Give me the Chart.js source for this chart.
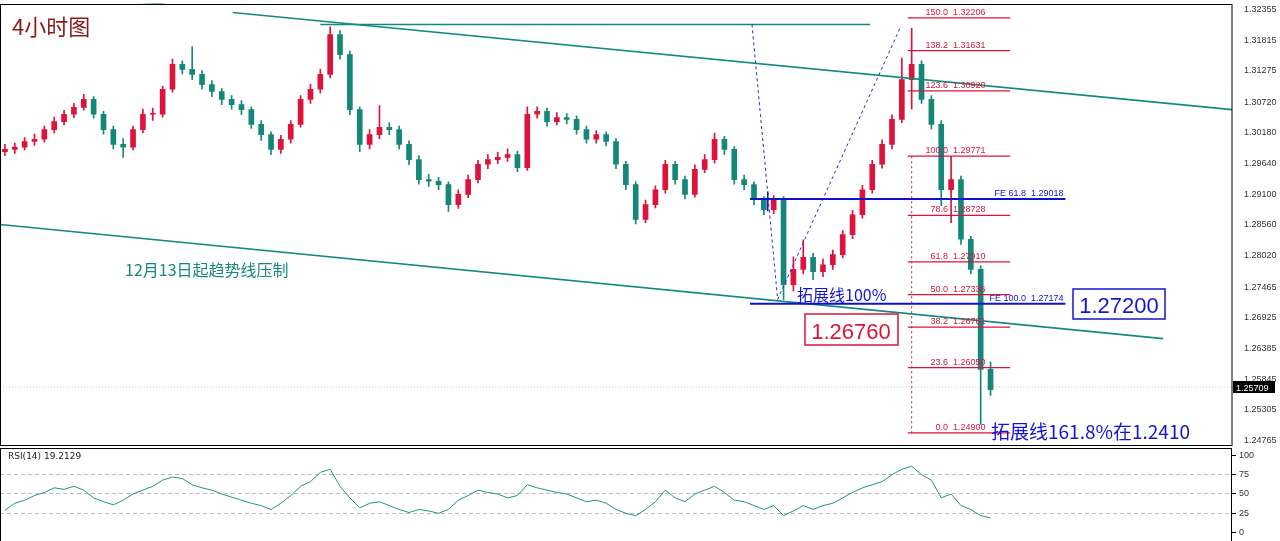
<!DOCTYPE html>
<html><head><meta charset="utf-8">
<script src="https://cdn.jsdelivr.net/npm/chart.js@4/dist/chart.umd.min.js"></script>
<style>body{margin:0;background:#fff;width:1280px;height:541px;overflow:hidden;position:relative}
#a{position:absolute;left:0;top:0}#b{position:absolute;left:0;top:447px;background:#fff}</style></head>
<body><canvas id="a" width="1280" height="452"></canvas><canvas id="b" width="1280" height="94"></canvas>
<script>
const closes=[1.2989,1.2993,1.3003,1.3007,1.3024,1.3038,1.3051,1.3063,1.3077,1.3051,1.3024,1.2998,1.2993,1.3024,1.3051,1.3051,1.3095,1.3139,1.3130,1.3121,1.3103,1.3091,1.3077,1.3068,1.3059,1.3033,1.3015,1.2989,1.3007,1.3033,1.3077,1.3095,1.3121,1.3191,1.3156,1.3059,1.2998,1.3015,1.3028,1.3024,1.2998,1.2971,1.2936,1.2933,1.2927,1.2892,1.2910,1.2936,1.2963,1.2971,1.2975,1.2980,1.2957,1.3051,1.3056,1.3038,1.3045,1.3042,1.3024,1.3007,1.3015,1.3003,1.2963,1.2927,1.2866,1.2892,1.2918,1.2963,1.2936,1.2910,1.2954,1.2971,1.3007,1.2989,1.2936,1.2927,1.2901,1.2883,1.2901,1.2751,1.2778,1.2799,1.2774,1.2786,1.2804,1.2839,1.2874,1.2918,1.2963,1.2998,1.3042,1.3112,1.3139,1.3077,1.3033,1.2918,1.2936,1.2831,1.2778,1.2602,1.2566];
const firstOpen=1.2985;
const highs=[1.2998,1.3000,1.3010,1.3016,1.3030,1.3046,1.3058,1.3070,1.3086,1.3082,1.3056,1.3030,1.3008,1.3030,1.3060,1.3062,1.3100,1.3148,1.3145,1.3170,1.3128,1.3110,1.3096,1.3084,1.3075,1.3064,1.3040,1.3020,1.3014,1.3040,1.3084,1.3104,1.3130,1.3205,1.3198,1.3162,1.3064,1.3024,1.3066,1.3036,1.3030,1.3004,1.2978,1.2945,1.2940,1.2932,1.2918,1.2944,1.2970,1.2980,1.2984,1.2990,1.2986,1.3064,1.3064,1.3062,1.3054,1.3052,1.3048,1.3030,1.3022,1.3020,1.3008,1.2968,1.2932,1.2900,1.2925,1.2970,1.2968,1.2942,1.2962,1.2980,1.3018,1.3012,1.2994,1.2944,1.2932,1.2906,1.2908,1.2906,1.2800,1.2830,1.2806,1.2796,1.2812,1.2846,1.2882,1.2926,1.2970,1.3006,1.3050,1.3150,1.3202,1.3145,1.3084,1.3040,1.2977,1.2942,1.2836,1.2784,1.2615];
const lows=[1.2978,1.2982,1.2988,1.2996,1.3002,1.3018,1.3032,1.3045,1.3058,1.3044,1.3016,1.2990,1.2975,1.2988,1.3018,1.3040,1.3046,1.3090,1.3122,1.3112,1.3095,1.3082,1.3068,1.3060,1.3050,1.3026,1.3005,1.2980,1.2982,1.3000,1.3028,1.3070,1.3088,1.3115,1.3148,1.3050,1.2985,1.2990,1.3008,1.3015,1.2990,1.2962,1.2928,1.2924,1.2918,1.2880,1.2885,1.2904,1.2930,1.2955,1.2964,1.2968,1.2950,1.2952,1.3044,1.3030,1.3032,1.3034,1.3016,1.3000,1.3000,1.2995,1.2955,1.2918,1.2858,1.2860,1.2886,1.2912,1.2928,1.2902,1.2905,1.2948,1.2965,1.2980,1.2928,1.2918,1.2892,1.2874,1.2876,1.2725,1.2740,1.2770,1.2760,1.2765,1.2778,1.2798,1.2832,1.2868,1.2912,1.2956,1.2990,1.3036,1.3060,1.3070,1.3025,1.2890,1.2860,1.2822,1.2770,1.2505,1.2556];
const rsi=[29,38,42,48,52,58,56,60,55,45,40,36,42,50,55,60,68,72,70,62,58,55,50,46,42,38,35,30,38,48,60,66,78,82,60,45,32,38,40,35,30,26,30,28,25,30,42,48,55,52,50,45,48,62,58,55,52,50,45,40,42,38,30,25,22,30,40,55,45,40,50,55,60,52,42,40,35,30,35,22,28,35,30,35,38,45,52,58,62,66,75,82,86,75,68,45,50,35,30,22,19];
const priceTicks=[1.32355,1.31815,1.31275,1.30720,1.30180,1.29640,1.29100,1.28560,1.28020,1.27465,1.26925,1.26385,1.25845,1.25305,1.24765];
const lastPrice=1.25709;
const fibLevels=['150.0','138.2','123.6','100.0','78.6','61.8','50.0','38.2','23.6','0.0'];
const fibPrices=[1.32206,1.31631,1.30920,1.29771,1.28728,1.27910,1.27336,1.26761,1.26050,1.24900];
const feLevels=['FE 61.8','FE 100.0'];
const fePrices=[1.29018,1.27174];
const rsiTicks=[0,25,50,75,100];
const N=125;
const labels=Array.from({length:N},(_,i)=>i);
const opens=closes.map((c,i)=>i?closes[i-1]:firstOpen);
const RED='#dc143c',TEAL='#15877a';
const col=closes.map((c,i)=>c>=opens[i]?RED:TEAL);
const AX='9px "Liberation Sans"';

function px(ch,i){const x=ch.scales.x;const d=x.getPixelForValue(1)-x.getPixelForValue(0);return x.getPixelForValue(0)+i*d;}
function py(ch,p){return ch.scales.y.getPixelForValue(p);}
function line(ctx,x1,y1,x2,y2,c,w,dash){ctx.save();ctx.strokeStyle=c;ctx.lineWidth=w;ctx.setLineDash(dash||[]);ctx.beginPath();ctx.moveTo(x1,y1);ctx.lineTo(x2,y2);ctx.stroke();ctx.restore();}
function txt(ctx,t,x,y,c,f,al){ctx.save();ctx.fillStyle=c;ctx.font=f;ctx.textAlign=al||'left';ctx.textBaseline='alphabetic';ctx.fillText(t,x,y);ctx.restore();}

const under={id:'under',beforeDatasetsDraw(ch){const ctx=ch.ctx,a=ch.chartArea;
 line(ctx,a.left,py(ch,lastPrice),a.right,py(ch,lastPrice),'#ccc',1,[1,2]);}};
const over={id:'over',afterDatasetsDraw(ch){const ctx=ch.ctx,a=ch.chartArea;
 ctx.save();ctx.beginPath();ctx.rect(a.left,a.top-6,a.width,a.height+6);ctx.clip();
 line(ctx,px(ch,23.1),py(ch,1.3230),px(ch,124.5),py(ch,1.3059),'#138a80',1.6);
 line(ctx,px(ch,13.4),py(ch,1.3248),px(ch,16.2),py(ch,1.3245),'#138a80',1.6);
 line(ctx,px(ch,-0.5),py(ch,1.2857),px(ch,117.5),py(ch,1.2656),'#138a80',1.6);
 line(ctx,px(ch,32),py(ch,1.3209),px(ch,87.8),py(ch,1.3209),'#138a80',1.6);
 line(ctx,px(ch,75.8),py(ch,1.3209),px(ch,78.4),py(ch,1.2725),'#2a2ad0',1,[3,3]);
 line(ctx,px(ch,78.4),py(ch,1.2725),px(ch,90.8),py(ch,1.3202),'#2a2ad0',1,[3,3]);
 fePrices.forEach((p,k)=>{const y=py(ch,p);line(ctx,px(ch,75.6),y,px(ch,107.6),y,'#1010d0',1.8);
  txt(ctx,feLevels[k]+'  '+p.toFixed(5),px(ch,107.4),y-3,'#1010d0','9px "Liberation Sans"','right');});
 line(ctx,px(ch,77.4),py(ch,1.2915),px(ch,77.4),py(ch,1.2880),'#1010d0',1.5);
 fibPrices.forEach((p,k)=>{const y=py(ch,p);line(ctx,px(ch,91.6),y,px(ch,102),y,RED,1.2);
  txt(ctx,fibLevels[k]+'  '+p.toFixed(5),px(ch,99.5),y-3,RED,'9px "Liberation Sans"','right');});
 line(ctx,px(ch,92),py(ch,1.29771),px(ch,92),py(ch,1.249),RED,1,[2,3]);
 ctx.restore();
 txt(ctx,'4小时图',12,35,'#8b1a1a','22px "Noto Sans CJK SC"');
 txt(ctx,'12月13日起趋势线压制',125,276,'#168a80','16px "Noto Sans CJK SC"');
 txt(ctx,'拓展线100%',797,301,'#1515d0','16px "Noto Sans CJK SC"');
 txt(ctx,'拓展线161.8%在1.2410',991,439,'#1515d0','19px "Noto Sans CJK SC"');
 ctx.save();ctx.fillStyle='#fff';ctx.fillRect(1073,289,92,30);ctx.strokeStyle='#1515d0';ctx.lineWidth=1.5;ctx.strokeRect(1073,289,92,30);ctx.restore();
 txt(ctx,'1.27200',1119,313,'#1515d0','22px "Liberation Sans"','center');
 ctx.save();ctx.fillStyle='#fff';ctx.fillRect(805,314,93,31);ctx.strokeStyle=RED;ctx.lineWidth=1.5;ctx.strokeRect(805,314,93,31);ctx.restore();
 txt(ctx,'1.26760',851,339,RED,'22px "Liberation Sans"','center');
 ctx.save();ctx.strokeStyle='#000';ctx.lineWidth=1;ctx.strokeRect(0.5,4.5,a.right-0.5,441);ctx.restore();
 const y=py(ch,lastPrice);ctx.save();ctx.fillStyle='#000';ctx.fillRect(a.right+1,y-6,42,12);ctx.restore();
 txt(ctx,lastPrice.toFixed(5),a.right+4,y+4,'#fff',AX);
}};

new Chart(document.getElementById('a'),{type:'bar',
 data:{labels,datasets:[
  {data:closes.map((c,i)=>[lows[i],highs[i]]),backgroundColor:col,barThickness:1,grouped:false},
  {data:closes.map((c,i)=>[opens[i],c]),backgroundColor:col,barThickness:5,grouped:false,minBarLength:1}]},
 options:{animation:false,responsive:false,events:[],layout:{padding:{top:0,bottom:0,left:0,right:0}},
  plugins:{legend:{display:false},tooltip:{enabled:false}},
  scales:{x:{display:false,offset:true},
   y:{position:'right',min:1.2473,max:1.32355,afterBuildTicks(s){s.ticks=priceTicks.map(v=>({value:v}));},
    grid:{display:false,drawTicks:true},border:{display:false},
    ticks:{color:'#333',font:{size:9,family:'Liberation Sans'},padding:4,callback:v=>v.toFixed(5)},afterFit(s){s.width=48;}}}},
 plugins:[under,over]});

const rsiPlug={id:'rp',afterDraw(ch){const ctx=ch.ctx,a=ch.chartArea;
 ctx.save();ctx.strokeStyle='#000';ctx.strokeRect(a.left+0.5,1.5,a.width-1,93);ctx.restore();
 txt(ctx,'RSI(14) 19.2129',8,12,'#222','9px "DejaVu Sans"');}};
new Chart(document.getElementById('b'),{type:'line',
 data:{labels,datasets:[{data:rsi,borderColor:'#1f9a6e',borderWidth:1,pointRadius:0,tension:0}]},
 options:{animation:false,responsive:false,events:[],layout:{padding:{top:3,bottom:2}},
  plugins:{legend:{display:false},tooltip:{enabled:false}},
  scales:{x:{display:false,offset:true},
   y:{position:'right',min:0,max:100,afterBuildTicks(s){s.ticks=rsiTicks.map(v=>({value:v}));},
    grid:{color:c=>(c.tick.value%100===0)?'rgba(0,0,0,0)':'#bbb',tickColor:'#000',tickLength:4,drawOnChartArea:true},
    border:{display:false,dash:[4,3]},
    ticks:{color:'#333',font:{size:9,family:'Liberation Sans'},padding:3},afterFit(s){s.width=48;}}}},
 plugins:[rsiPlug]});
</script></body></html>
